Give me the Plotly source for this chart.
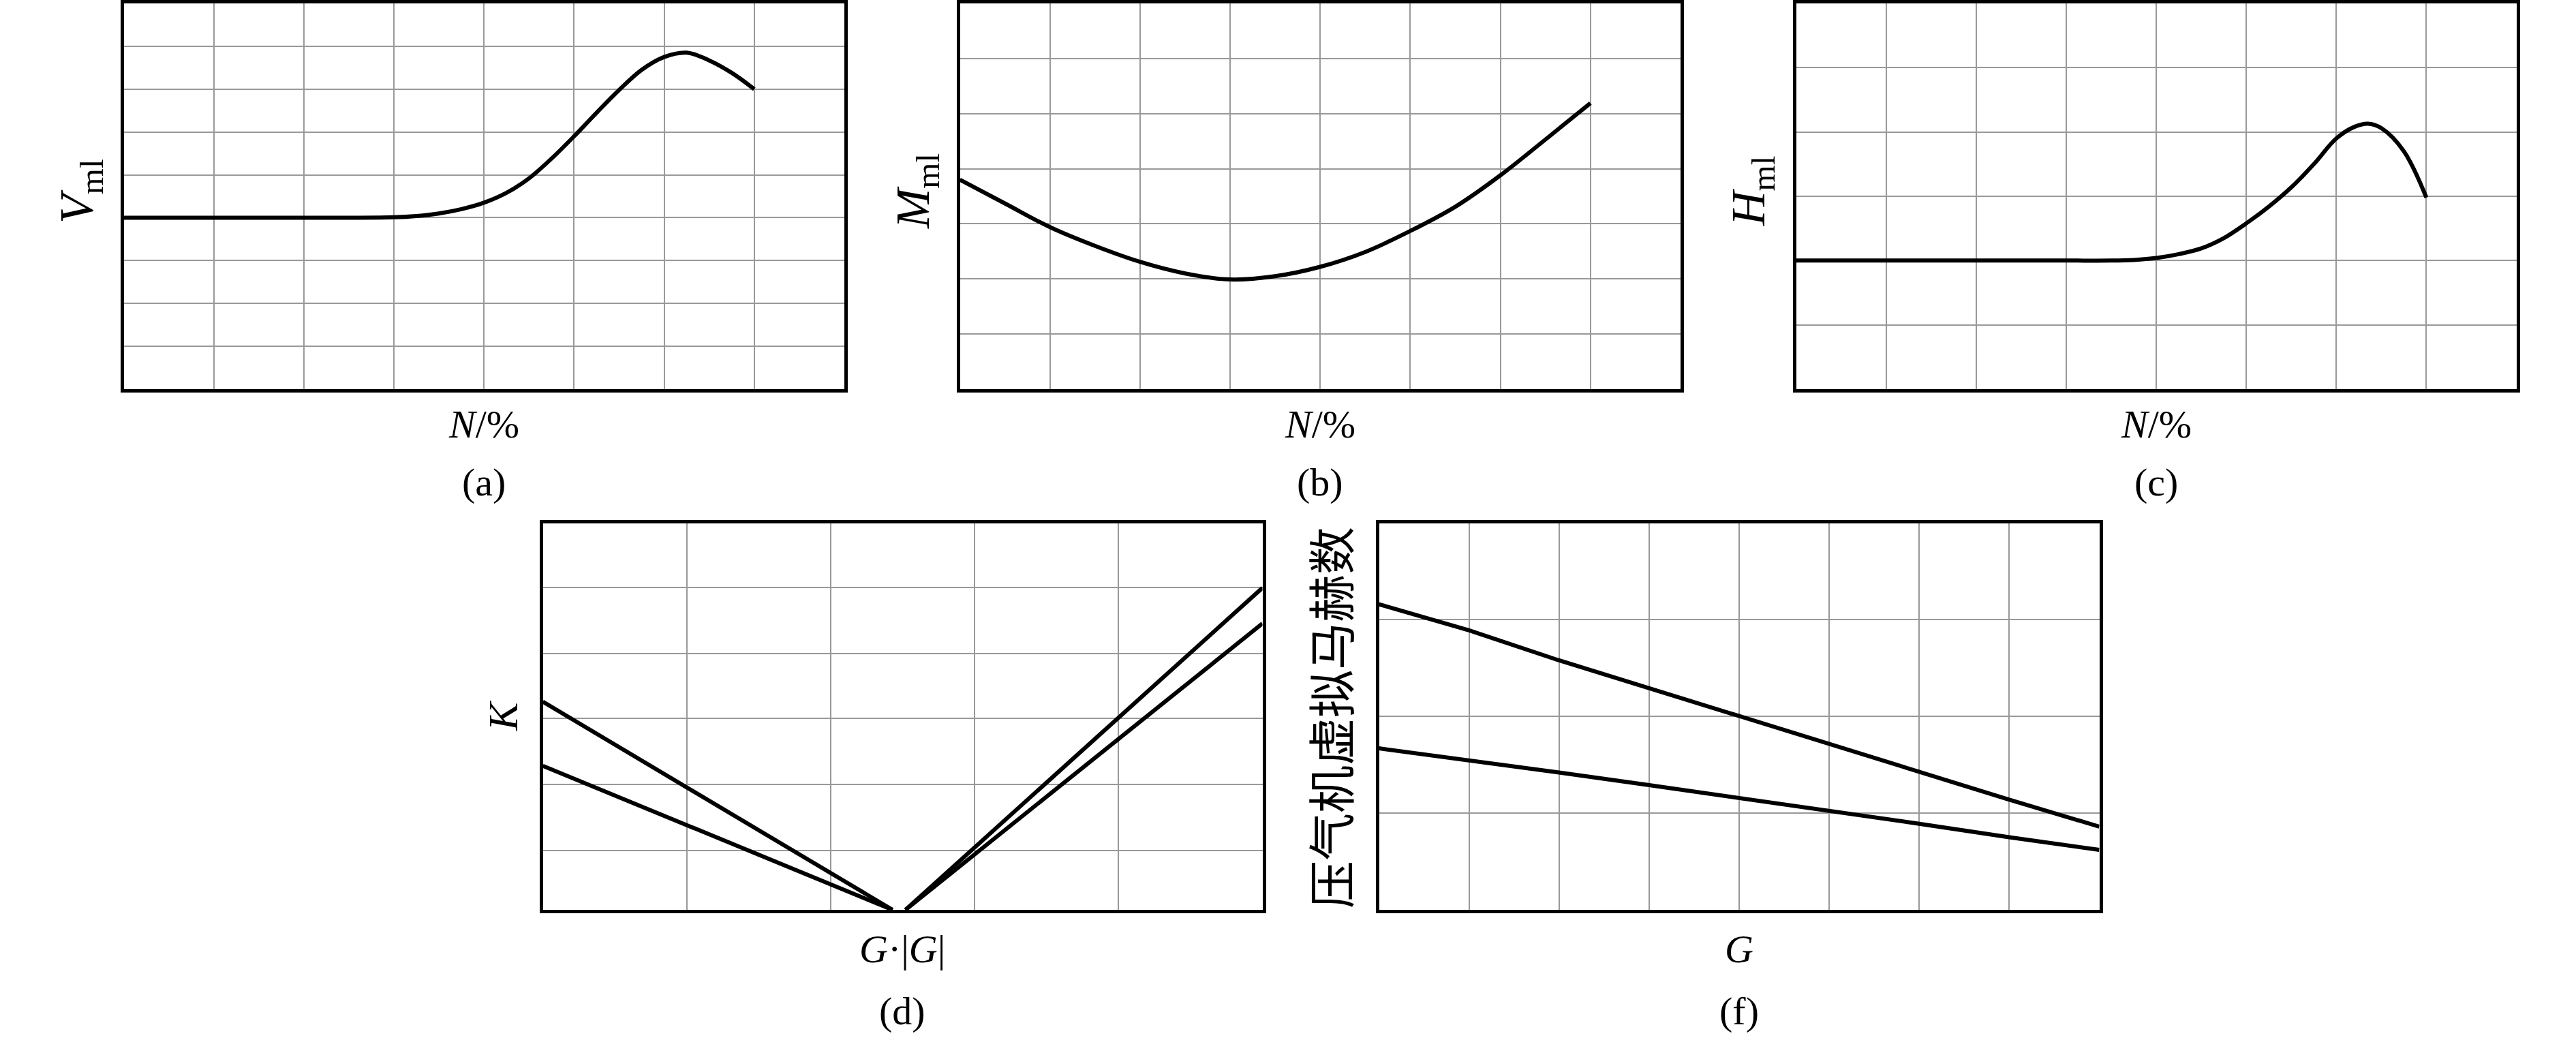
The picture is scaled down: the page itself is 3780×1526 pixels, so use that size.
import plotly.graph_objects as go

# (a) V_ml vs N
a_x = [0, 1, 2, 2.5, 3, 3.25, 3.5, 3.75, 4, 4.25, 4.5, 4.75, 5, 5.25, 5.5, 5.75, 6, 6.25, 6.5, 6.75, 7]
a_y = [4, 4, 4, 4, 4.01, 4.04, 4.1, 4.2, 4.35, 4.58, 4.92, 5.38, 5.9, 6.45, 6.98, 7.45, 7.75, 7.85, 7.67, 7.38, 7.0]

# (b) M_ml vs N
b_x = [0, 0.5, 1, 1.5, 2, 2.5, 3, 3.5, 4, 4.5, 5, 5.5, 6, 6.5, 7]
b_y = [3.8, 3.37, 2.94, 2.6, 2.31, 2.1, 1.99, 2.05, 2.22, 2.49, 2.87, 3.31, 3.88, 4.53, 5.19]

# (c) H_ml vs N
c_x = [0, 1, 2, 3, 3.5, 3.75, 4, 4.25, 4.5, 4.75, 5, 5.25, 5.5, 5.75, 6, 6.2, 6.35, 6.5, 6.75, 7]
c_y = [2, 2, 2, 2, 2, 2.01, 2.04, 2.1, 2.19, 2.35, 2.58, 2.84, 3.14, 3.5, 3.9, 4.08, 4.13, 4.06, 3.7, 2.98]

# (d) K vs G|G|, two branches each side
d_left_x = [0, 2.43]
d_left_hi = [3.18, 0]
d_left_lo = [2.2, 0]
d_right_x = [2.52, 5]
d_right_hi = [0, 4.92]
d_right_lo = [0, 4.375]

# (f) virtual Mach number vs G
f_x = [0, 1, 2, 3, 4, 5, 6, 7, 8]
f_hi = [3.16, 2.89, 2.58, 2.29, 2.01, 1.72, 1.43, 1.14, 0.86]
f_lo = [1.67, 1.55, 1.42, 1.29, 1.16, 1.03, 0.89, 0.75, 0.62]

W, H = 3780, 1526
FONT = "Liberation Serif"
LINE = dict(color="black", width=6)
FRAME = 5

fig = go.Figure()

# panel frames in pixels (centre of the border line): left, right, top, bottom
panels = [
    (179, 1241.5, 2.5, 573.5, [0, 8], [0, 9], list(range(1, 9)), list(range(1, 9))),
    (1406, 2468.5, 2.5, 573.5, [0, 8], [0, 7], list(range(1, 8)), list(range(1, 7))),
    (2633.5, 3695, 2.5, 573.5, [0, 8], [0, 6], list(range(1, 8)), list(range(1, 6))),
    (794, 1855, 765, 1337.5, [0, 5], [0, 5.91], list(range(1, 5)), [0.91, 1.92, 2.93, 3.92, 4.93]),
    (2021, 3083, 765, 1337.5, [0, 8], [0, 4], list(range(1, 8)), list(range(1, 4))),
]

for i, (l, r, t, b, xr, yr, xg, yg) in enumerate(panels):
    n = "" if i == 0 else str(i + 1)
    # plotly draws the frame outside the domain, so pull it in by half a line
    h = FRAME / 2
    common = dict(showline=True, linecolor="black", linewidth=FRAME, mirror=True,
                  showgrid=True, gridcolor="#999999", gridwidth=2,
                  showticklabels=False, ticks="", zeroline=False)
    fig.layout["xaxis" + n] = dict(domain=[(l + h) / W, (r - h) / W], range=xr, tickvals=xg,
                                   anchor="y" + n, **common)
    fig.layout["yaxis" + n] = dict(domain=[1 - (b - h) / H, 1 - (t + h) / H], range=yr, tickvals=yg,
                                   anchor="x" + n, **common)

def add(x, y, k, shape="spline"):
    n = "" if k == 1 else str(k)
    fig.add_trace(go.Scatter(x=x, y=y, mode="lines", line=dict(shape=shape, **LINE),
                             xaxis="x" + n, yaxis="y" + n, showlegend=False))

add(a_x, a_y, 1)
add(b_x, b_y, 2)
add(c_x, c_y, 3)
add(d_left_x, d_left_hi, 4, "linear")
add(d_left_x, d_left_lo, 4, "linear")
add(d_right_x, d_right_hi, 4, "linear")
add(d_right_x, d_right_lo, 4, "linear")
add(f_x, f_hi, 5, "linear")
add(f_x, f_lo, 5, "linear")

labels = [
    # text, x px, y px, angle, font, size
    ("<i>N</i>/%", 710, 622, 0, FONT, 58),
    ("(a)", 710, 707, 0, FONT, 58),
    ("<i>N</i>/%", 1937, 622, 0, FONT, 58),
    ("(b)", 1937, 707, 0, FONT, 58),
    ("<i>N</i>/%", 3164, 622, 0, FONT, 58),
    ("(c)", 3164, 707, 0, FONT, 58),
    ("<i>G</i>·|<i>G</i>|", 1324, 1392, 0, FONT, 58),
    ("(d)", 1324, 1483, 0, FONT, 58),
    ("<i>G</i>", 2552, 1392, 0, FONT, 58),
    ("(f)", 2552, 1483, 0, FONT, 58),
    ("<i>V</i><sub>ml</sub>", 118, 281, -90, FONT, 70),
    ("<i>M</i><sub>ml</sub>", 1345, 281, -90, FONT, 70),
    ("<i>H</i><sub>ml</sub>", 2571, 281, -90, FONT, 70),
    ("<i>K</i>", 738, 1050, -90, FONT, 62),
    ("压气机虚拟马赫数", 1950, 1053, -90, "Noto Sans CJK SC", 70),
]
for text, px, py, ang, fam, size in labels:
    fig.add_annotation(text=text, x=px / W, y=1 - py / H, xref="paper", yref="paper",
                       xanchor="center", yanchor="middle", textangle=ang, showarrow=False,
                       font=dict(family=fam, size=size, color="black"))

fig.update_layout(width=W, height=H, margin=dict(l=0, r=0, t=0, b=0),
                  paper_bgcolor="white", plot_bgcolor="white")

# drop the browser's default body margin so the figure sits at the page corner
fig.write_html("out.html", config={"displayModeBar": False},
               post_script="document.body.style.margin = '0';")
